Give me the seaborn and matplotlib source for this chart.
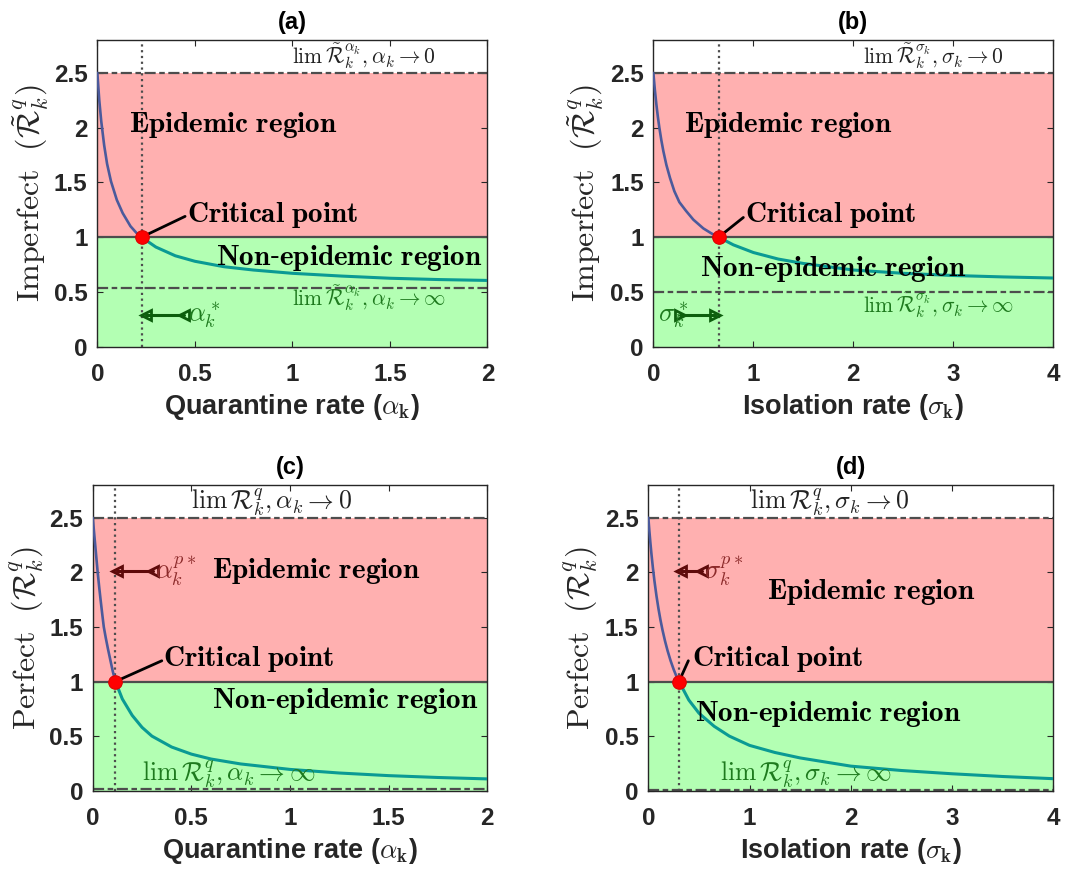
import numpy as np
import pandas as pd
import matplotlib
matplotlib.use("Agg")
import matplotlib.pyplot as plt
import seaborn as sns

# ---------------- data ----------------
# (a) imperfect, quarantine rate
a_x_up = [0, 0.01, 0.02, 0.035, 0.05, 0.07, 0.1, 0.13, 0.17, 0.2, 0.227]
a_y_up = [2.50, 2.25, 2.06, 1.84, 1.67, 1.51, 1.34, 1.22, 1.10, 1.04, 1.00]
a_x_low = [0.227, 0.3, 0.4, 0.5, 0.65, 0.8, 1.0, 1.25, 1.5, 1.75, 2.0]
a_y_low = [1.00, 0.91, 0.83, 0.78, 0.73, 0.70, 0.67, 0.645, 0.625, 0.613, 0.605]
a_crit = 0.227
a_lim0, a_liminf = 2.5, 0.54

# (b) imperfect, isolation rate
b_x_up = [0, 0.015, 0.03, 0.045, 0.06, 0.08, 0.1, 0.13, 0.167, 0.21, 0.26, 0.327, 0.4, 0.5, 0.58, 0.653]
b_y_up = [2.50, 2.346, 2.214, 2.10, 2.00, 1.885, 1.786, 1.661, 1.54, 1.42, 1.32, 1.24, 1.16, 1.08, 1.035, 1.00]
b_x_low = [0.653, 0.8, 1.0, 1.25, 1.5, 2.0, 2.5, 3.0, 3.5, 4.0]
b_y_low = [1.00, 0.93, 0.86, 0.80, 0.76, 0.70, 0.67, 0.65, 0.637, 0.627]
b_crit = 0.653
b_lim0, b_liminf = 2.5, 0.5

# (c) perfect, quarantine rate
c_x_up = [0, 0.006, 0.0125, 0.019, 0.025, 0.033, 0.04, 0.048, 0.056, 0.066, 0.077, 0.09, 0.102, 0.115]
c_y_up = [2.50, 2.38, 2.25, 2.12, 2.00, 1.86, 1.745, 1.62, 1.50, 1.40, 1.30, 1.19, 1.09, 1.00]
c_x_low = [0.115, 0.15, 0.2, 0.25, 0.3, 0.4, 0.5, 0.6, 0.75, 1.0, 1.25, 1.5, 1.75, 2.0]
c_y_low = [1.00, 0.84, 0.69, 0.58, 0.50, 0.40, 0.335, 0.29, 0.245, 0.195, 0.162, 0.138, 0.121, 0.108]
c_crit = 0.115
c_lim0, c_liminf = 2.5, 0.02

# (d) perfect, isolation rate
d_x_up = [0, 0.01, 0.02, 0.03, 0.045, 0.06, 0.08, 0.1, 0.12, 0.14, 0.165, 0.19, 0.22, 0.25, 0.275, 0.303]
d_y_up = [2.50, 2.381, 2.273, 2.174, 2.041, 1.923, 1.786, 1.667, 1.5625, 1.471, 1.37, 1.282, 1.19, 1.111, 1.053, 1.00]
d_x_low = [0.303, 0.4, 0.5, 0.65, 0.8, 1.0, 1.25, 1.5, 2.0, 2.5, 3.0, 3.5, 4.0]
d_y_low = [1.00, 0.83, 0.71, 0.59, 0.50, 0.415, 0.35, 0.30, 0.225, 0.185, 0.155, 0.13, 0.11]
d_crit = 0.303
d_lim0, d_liminf = 2.5, 0.003

y_ticks = [0, 0.5, 1, 1.5, 2, 2.5]
y_tick_labels = ["0", "0.5", "1", "1.5", "2", "2.5"]
xa_ticks = [0, 0.5, 1, 1.5, 2]
xa_tick_labels = ["0", "0.5", "1", "1.5", "2"]
xb_ticks = [0, 1, 2, 3, 4]
xb_tick_labels = ["0", "1", "2", "3", "4"]
threshold = 1.0

# ---------------- style ----------------
sns.set_theme(style="white")
plt.rcParams["font.family"] = ["Liberation Sans", "DejaVu Sans"]
plt.rcParams["mathtext.fontset"] = "cm"

C_UP = "#4b5a9c"
C_LOW = "#0a9a94"
C_RED = "#ffb0b0"
C_GREEN = "#b3ffb3"
C_GRAY = "#4d4d4d"
C_AX = "#262626"
C_GTXT = "#1e7a1e"
C_GARR = "#0d5e0d"
C_RTXT = "#8c2a2a"
C_RARR = "#5e0a0a"

fig = plt.figure(figsize=(10.66, 8.81), dpi=100)

panels = [
    dict(pos=[0.0913, 0.6065, 0.3659, 0.348], xu=a_x_up, yu=a_y_up, xl=a_x_low, yl=a_y_low,
         crit=a_crit, lim0=a_lim0, liminf=a_liminf, xmax=2, xt=xa_ticks, xtl=xa_tick_labels,
         title="(a)", xlabel=r"Quarantine rate ($\alpha_{\mathbf{k}}$)",
         ylabel=r"$\mathrm{Imperfect}\ \ (\tilde{\mathcal{R}}_k^q)$",
         lim0_txt=r"$\lim\,\tilde{\mathcal{R}}_k^{\alpha_k},\alpha_k\rightarrow 0$", lim0_xy=(1.0, 2.515), lim0_fs=15.5,
         liminf_txt=r"$\lim\,\tilde{\mathcal{R}}_k^{\alpha_k},\alpha_k\rightarrow \infty$", liminf_xy=(1.0, 0.44), liminf_fs=15.5,
         epi_xy=(0.164, 2.02), non_xy=(0.609, 0.81), crit_txt_xy=(0.458, 1.20), crit_line=(0.45, 1.19),
         arr=(0.445, 0.25, 0.29), arr_dir="<", arr_txt=r"$\alpha_k^*$", arr_txt_xy=(0.465, 0.29), arr_ha="left",
         arr_c=C_GARR, arr_tc=C_GTXT),
    dict(pos=[0.6129, 0.6065, 0.3752, 0.348], xu=b_x_up, yu=b_y_up, xl=b_x_low, yl=b_y_low,
         crit=b_crit, lim0=b_lim0, liminf=b_liminf, xmax=4, xt=xb_ticks, xtl=xb_tick_labels,
         title="(b)", xlabel=r"Isolation rate ($\sigma_{\mathbf{k}}$)",
         ylabel=r"$\mathrm{Imperfect}\ \ (\tilde{\mathcal{R}}_k^q)$",
         lim0_txt=r"$\lim\,\tilde{\mathcal{R}}_k^{\sigma_k},\sigma_k\rightarrow 0$", lim0_xy=(2.1, 2.515), lim0_fs=15.5,
         liminf_txt=r"$\lim\,\tilde{\mathcal{R}}_k^{\sigma_k},\sigma_k\rightarrow \infty$", liminf_xy=(2.1, 0.38), liminf_fs=15.5,
         epi_xy=(0.307, 2.02), non_xy=(0.47, 0.71), crit_txt_xy=(0.917, 1.20), crit_line=(0.9, 1.18),
         arr=(0.267, 0.617, 0.285), arr_dir=">", arr_txt=r"$\sigma_k^*$", arr_txt_xy=(0.05, 0.285), arr_ha="left",
         arr_c=C_GARR, arr_tc=C_GTXT),
    dict(pos=[0.0870, 0.1025, 0.3701, 0.347], xu=c_x_up, yu=c_y_up, xl=c_x_low, yl=c_y_low,
         crit=c_crit, lim0=c_lim0, liminf=c_liminf, xmax=2, xt=xa_ticks, xtl=xa_tick_labels,
         title="(c)", xlabel=r"Quarantine rate ($\alpha_{\mathbf{k}}$)",
         ylabel=r"$\mathrm{Perfect}\ \ (\mathcal{R}_k^q)$",
         lim0_txt=r"$\lim\,\mathcal{R}_k^{q},\alpha_k\rightarrow 0$", lim0_xy=(0.50, 2.64), lim0_fs=18.5,
         liminf_txt=r"$\lim\,\mathcal{R}_k^{q},\alpha_k\rightarrow \infty$", liminf_xy=(0.248, 0.15), liminf_fs=18.5,
         epi_xy=(0.606, 2.01), non_xy=(0.606, 0.82), crit_txt_xy=(0.358, 1.21), crit_line=(0.35, 1.19),
         arr=(0.307, 0.125, 2.01), arr_dir="<", arr_txt=r"$\alpha_k^{p*}$", arr_txt_xy=(0.315, 2.01), arr_ha="left",
         arr_c=C_RARR, arr_tc=C_RTXT),
    dict(pos=[0.6082, 0.1025, 0.3799, 0.347], xu=d_x_up, yu=d_y_up, xl=d_x_low, yl=d_y_low,
         crit=d_crit, lim0=d_lim0, liminf=d_liminf, xmax=4, xt=xb_ticks, xtl=xb_tick_labels,
         title="(d)", xlabel=r"Isolation rate ($\sigma_{\mathbf{k}}$)",
         ylabel=r"$\mathrm{Perfect}\ \ (\mathcal{R}_k^q)$",
         lim0_txt=r"$\lim\,\mathcal{R}_k^{q},\sigma_k\rightarrow 0$", lim0_xy=(1.0, 2.64), lim0_fs=18.5,
         liminf_txt=r"$\lim\,\mathcal{R}_k^{q},\sigma_k\rightarrow \infty$", liminf_xy=(0.708, 0.15), liminf_fs=18.5,
         epi_xy=(1.17, 1.82), non_xy=(0.46, 0.70), crit_txt_xy=(0.435, 1.21), crit_line=(0.395, 1.19),
         arr=(0.527, 0.325, 2.01), arr_dir="<", arr_txt=r"$\sigma_k^{p*}$", arr_txt_xy=(0.55, 2.01), arr_ha="left",
         arr_c=C_RARR, arr_tc=C_RTXT),
]

dash_style = (0, (5, 1.6, 2.5, 1.6))

for p in panels:
    ax = fig.add_axes(p["pos"])
    ax.set_facecolor("white")
    # regions
    ax.axhspan(threshold, p["lim0"], color=C_RED, lw=0, zorder=0)
    ax.axhspan(0, threshold, color=C_GREEN, lw=0, zorder=0)
    ax.axhline(threshold, color=C_GRAY, lw=1.6, zorder=1)
    ax.axhline(p["lim0"], color=C_GRAY, lw=1.6, ls=dash_style, zorder=1)
    ax.axhline(p["liminf"], color=C_GRAY, lw=1.6, ls=dash_style, zorder=1)
    ax.axvline(p["crit"], color=C_GRAY, lw=1.6, ls=(0, (1, 1.6)), zorder=1)

    up = pd.DataFrame({"x": p["xu"], "y": p["yu"]})
    low = pd.DataFrame({"x": p["xl"], "y": p["yl"]})
    sns.lineplot(data=up, x="x", y="y", ax=ax, color=C_UP, lw=1.9, sort=False, estimator=None, zorder=3)
    sns.lineplot(data=low, x="x", y="y", ax=ax, color=C_LOW, lw=2.2, sort=False, estimator=None, zorder=3)
    crit_df = pd.DataFrame({"x": [p["crit"]], "y": [threshold]})
    sns.scatterplot(data=crit_df, x="x", y="y", ax=ax, color="#ff0000", s=95, edgecolor="#dd0000",
                    linewidth=0.8, zorder=5)

    # texts
    bold_fs = 21
    ax.text(*p["epi_xy"], r"$\mathbf{Epidemic\ region}$", fontsize=bold_fs, va="center", ha="left",
            color="black", zorder=6)
    ax.text(*p["non_xy"], r"$\mathbf{Non}$-$\mathbf{epidemic\ region}$", fontsize=bold_fs, va="center",
            ha="left", color="black", zorder=6)
    ax.text(*p["crit_txt_xy"], r"$\mathbf{Critical\ point}$", fontsize=bold_fs, va="center", ha="left",
            color="black", zorder=6)
    ax.plot([p["crit"], p["crit_line"][0]], [threshold, p["crit_line"][1]], color="black", lw=2, zorder=4)
    ax.text(*p["lim0_xy"], p["lim0_txt"], fontsize=p["lim0_fs"], va="bottom" if p["lim0_fs"] < 17 else "center",
            ha="left", color="#222222", zorder=6)
    ax.text(*p["liminf_xy"], p["liminf_txt"], fontsize=p["liminf_fs"], va="center", ha="left",
            color=C_GTXT, zorder=6)

    # arrow
    x0, x1, ya = p["arr"]
    ax.plot([x0, x1], [ya, ya], color=p["arr_c"], lw=2.2, zorder=6)
    ax.plot([x0, x1], [ya, ya], ls="none", marker=p["arr_dir"], markersize=7, mfc="none",
            mec=p["arr_c"], mew=2, zorder=6)
    ax.text(*p["arr_txt_xy"], p["arr_txt"], fontsize=19, va="center", ha=p["arr_ha"], color=p["arr_tc"], zorder=6)

    # axes
    ax.set_xlim(0, p["xmax"])
    ax.set_ylim(0, 2.8)
    ax.set_xticks(p["xt"])
    ax.set_xticklabels(p["xtl"], fontweight="bold", fontsize=17.5, color=C_AX)
    ax.set_yticks(y_ticks)
    ax.set_yticklabels(y_tick_labels, fontweight="bold", fontsize=17.5, color=C_AX)
    ax.tick_params(axis="both", direction="in", length=4, width=0.8, color=C_AX,
                   top=True, right=True, bottom=True, left=True)
    ax.tick_params(axis="x", pad=12)
    ax.tick_params(axis="y", pad=7)
    for s in ax.spines.values():
        s.set_color(C_AX)
        s.set_linewidth(1.0)
        s.set_visible(True)
    ax.set_xlabel(p["xlabel"], fontsize=19.5, fontweight="bold", color=C_AX, labelpad=4)
    ax.set_ylabel(p["ylabel"], fontsize=23, color=C_AX)
    ax.yaxis.set_label_coords(-0.122, 0.5)
    ax.set_title(p["title"], fontsize=17, fontweight="bold", color="black", pad=8)

fig.savefig("out.png", dpi=100)
